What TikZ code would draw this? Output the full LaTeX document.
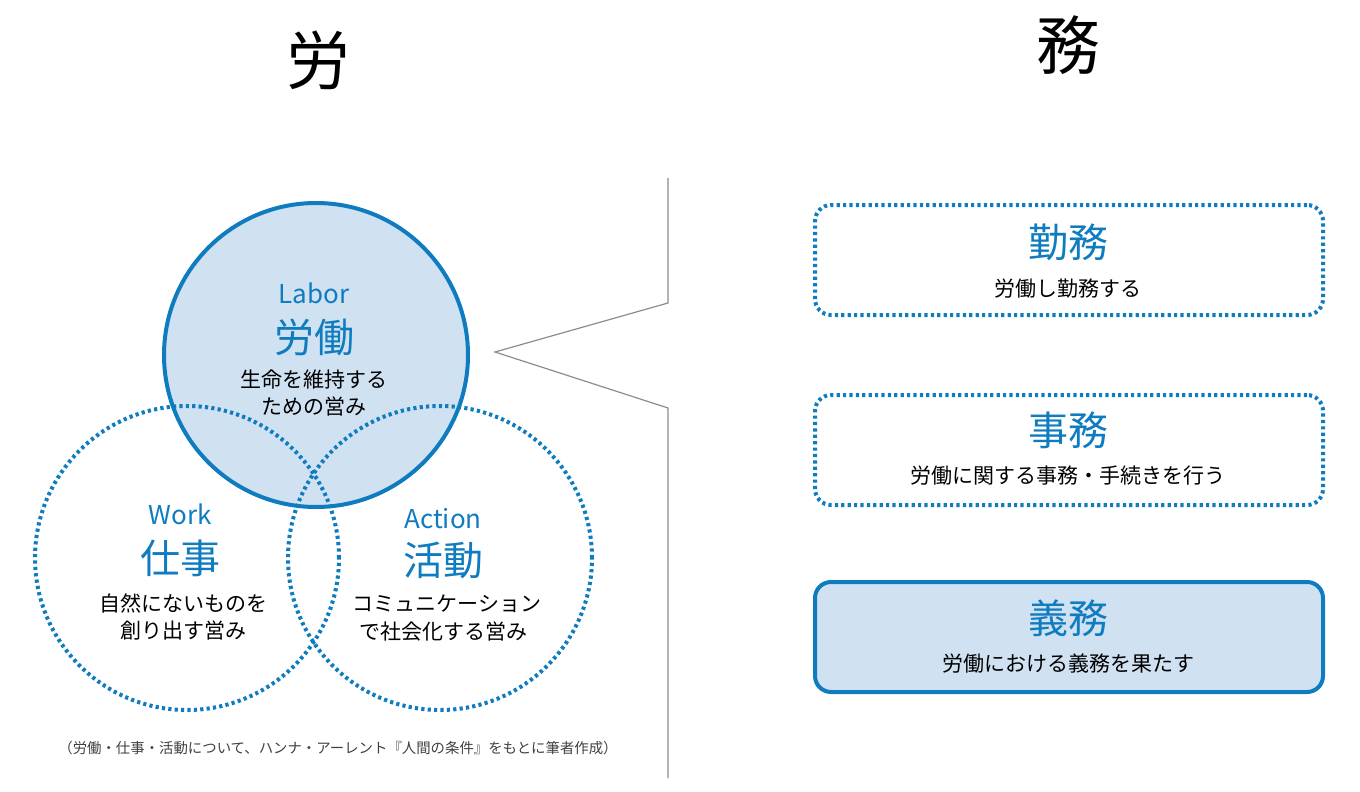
\documentclass[tikz,border=0pt]{standalone}
\usepackage{fontspec}
\setmainfont{Noto Sans CJK JP}
\definecolor{bl}{RGB}{16,124,192}
\definecolor{lb}{RGB}{208,225,242}
\definecolor{gr}{RGB}{140,140,140}
\tikzset{
 dotc/.style={draw=bl,line width=2pt,dash pattern=on 1.6pt off 1.6pt},
 solc/.style={draw=bl,line width=2pt,fill=lb},
 tx/.style={inner sep=0,font=\fontsize{#1}{#1}\selectfont},
 btx/.style={tx=#1,text=bl},
}
\begin{document}
\begin{tikzpicture}[x=0.5pt,y=-0.5pt]
\useasboundingbox (0,0) rectangle (1360,792);
\node[tx=32] (t1) at (318,60) {労};
\node[tx=32] (t2) at (1068,45) {務};
\node[circle,solc,minimum size=152pt] (lab) at (316,355) {};
\node[circle,dotc,minimum size=152pt] (wk) at (187,558) {};
\node[circle,dotc,minimum size=152pt] (ac) at (440,558) {};
\node[btx=13] (l1) at (314,293) {Labor};
\node[btx=20] (l2) at (314,337) {労働};
\node[tx=10.5] (l3) at (314,380) {生命を維持する};
\node[tx=10.5] (l4) at (314,407) {ための営み};
\node[btx=13] (w1) at (180,514) {Work};
\node[btx=20] (w2) at (180,558) {仕事};
\node[tx=10.5] (w3) at (183,603) {自然にないものを};
\node[tx=10.5] (w4) at (183,631) {創り出す営み};
\node[btx=13] (a1) at (443,519) {Action};
\node[btx=20] (a2) at (443,560) {活動};
\node[tx=10.5] (a3) at (447,604) {コミュニケーション};
\node[tx=10.5] (a4) at (443,632) {で社会化する営み};
\node[tx=7.2,text=black!75] (cap) at (338,748) {（労働・仕事・活動について、ハンナ・アーレント『人間の条件』をもとに筆者作成）};
\coordinate (p0) at (668,178); \coordinate (p1) at (668,303);
\coordinate (p2) at (495,352); \coordinate (p3) at (668,408); \coordinate (p4) at (668,778);
\draw[gr,line width=0.6pt] (p0)--(p1)--(p2)--(p3)--(p4);
\node[dotc,rounded corners=8pt,minimum width=254pt,minimum height=55pt] (b1) at (1069,260) {};
\node[dotc,rounded corners=8pt,minimum width=254pt,minimum height=55pt] (b2) at (1069,450) {};
\node[solc,rounded corners=8pt,minimum width=254pt,minimum height=55pt] (b3) at (1069,637) {};
\node[btx=20] (k1) at (1068,242) {勤務};
\node[tx=10.5] (k2) at (1068,289) {労働し勤務する};
\node[btx=20] (j1) at (1068,430) {事務};
\node[tx=10.5] (j2) at (1068,476) {労働に関する事務・手続きを行う};
\node[btx=20] (g1) at (1068,618) {義務};
\node[tx=10.5] (g2) at (1068,664) {労働における義務を果たす};
\end{tikzpicture}
\end{document}
